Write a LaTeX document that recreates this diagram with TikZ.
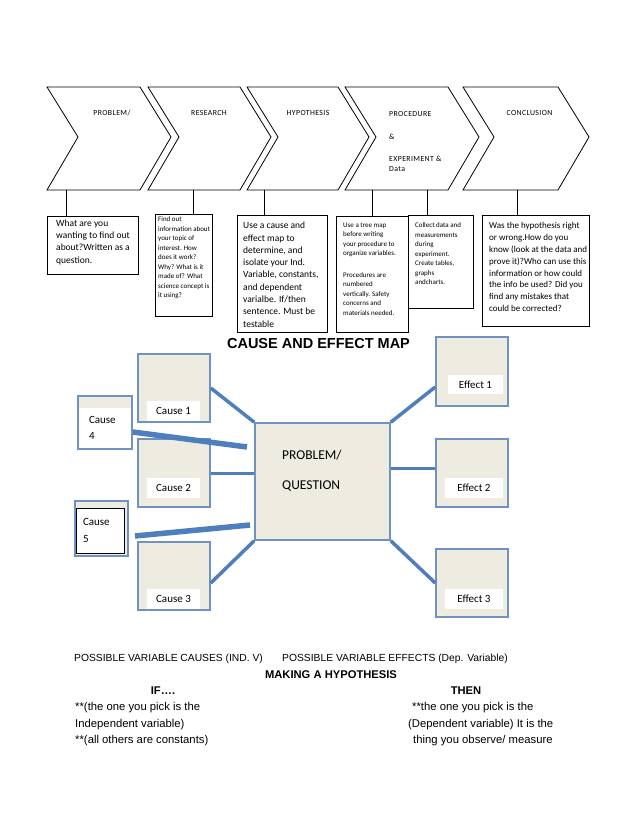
\documentclass[tikz,border=0pt]{standalone}
\usepackage{fontspec}
\setmainfont{Carlito}
\newfontfamily\arialfont{Liberation Sans}
\newfontfamily\chevfont[LetterSpace=5]{Carlito}
\usetikzlibrary{positioning}
\definecolor{mapfill}{HTML}{EEECE1}
\definecolor{mapedge}{HTML}{7092C2}
\definecolor{mapline}{HTML}{4F7EBD}

\begin{document}
\begin{tikzpicture}[x=1pt, y=-1pt]
    \tikzstyle{note}=[draw, line width=1.1pt, anchor=north west, inner sep=0pt]
    \tikzstyle{notetext}=[inner sep=0pt, align=left]
    \tikzstyle{big}=[font=\fontsize{9.5}{12.3}\selectfont]
    \tikzstyle{small}=[font=\fontsize{7}{9.5}\selectfont]
    \tikzstyle{chevlabel}=[font=\chevfont\fontsize{7.8}{10}\selectfont, inner sep=0pt]
    \tikzstyle{mapbox}=[draw=mapedge, fill=mapfill, line width=1.5pt, inner sep=0pt, minimum width=72pt, minimum height=68pt]
    \tikzstyle{tag}=[fill=white, inner sep=0pt, minimum width=53pt, minimum height=20pt, font=\fontsize{11}{13}\selectfont]
    \tikzstyle{spoke}=[draw=mapline, line width=3.5pt]
    \tikzstyle{plain}=[font=\arialfont\fontsize{10.3}{12}\selectfont, inner sep=0pt, anchor=base west]
    \tikzstyle{hyline}=[font=\arialfont\fontsize{11.3}{13}\selectfont, inner sep=0pt, anchor=base west]
    \tikzstyle{heading}=[font=\arialfont\bfseries\fontsize{11.2}{13}\selectfont, inner sep=0pt, anchor=base]

    \useasboundingbox (0,0) rectangle (638,826);

    % the five steps
    \foreach \a/\b in {47/140, 148/240, 247/338, 345/448, 463/558}
        \draw[line width=0.8pt] (\a,87) -- (\b,87) -- (\b+31,137) -- (\b,190) -- (\a,190) -- (\a+31,137) -- cycle;

    \node[chevlabel] (problem) at (112,113) {PROBLEM/};
    \node[chevlabel] (research) at (209,113) {RESEARCH};
    \node[chevlabel] (hypothesis) at (308,113) {HYPOTHESIS};
    \node[chevlabel, anchor=north west, align=left] (procedure) at (389,111) {PROCEDURE\\[13pt]\&\\[12pt]EXPERIMENT \&\\Data};
    \node[chevlabel] (conclusion) at (529.5,113) {CONCLUSION};

    \foreach \n/\x in {1/66, 2/193, 3/264, 4/372, 5/427, 6/517}
        \coordinate (c\n) at (\x,190);

    % notes under the steps
    \node[note, minimum width=91pt, minimum height=58pt] (b1) at (47,216) {};
    \node[notetext, big, below right=3.5pt and 9pt of b1.north west] (t1)
        {What are you\\wanting to find out\\about?Written as a\\question.};

    \node[note, minimum width=57pt, minimum height=102pt] (b2) at (155,214) {};
    \node[notetext, small, below right=2.5pt and 3pt of b2.north west] (t2)
        {Find out\\information about\\your topic of\\interest. How\\does it work?\\Why? What is it\\made of? What\\science concept is\\it using?};

    \node[note, minimum width=90pt, minimum height=117pt] (b3) at (237,215) {};
    \node[notetext, big, below right=7pt and 6pt of b3.north west] (t3)
        {Use a cause and\\effect map to\\determine, and\\isolate your Ind.\\Variable, constants,\\and dependent\\varialbe. If/then\\sentence. Must be\\testable};

    \node[note, minimum width=72pt, minimum height=116pt] (b4) at (336,216) {};
    \node[notetext, small, below right=6.5pt and 7pt of b4.north west] (t4)
        {Use a tree map\\before writing\\your procedure to\\organize variables.\\[12pt]Procedures are\\numbered\\vertically. Safety\\concerns and\\materials needed.};

    \node[note, minimum width=65pt, minimum height=93pt] (b5) at (408,215) {};
    \node[notetext, small, below right=7.5pt and 7pt of b5.north west] (t5)
        {Collect data and\\measurements\\during\\experiment.\\Create tables,\\graphs\\andcharts.};

    \node[note, minimum width=107pt, minimum height=111pt] (b6) at (482,215) {};
    \node[notetext, font=\fontsize{9}{11.9}\selectfont, below right=7pt and 7pt of b6.north west] (t6)
        {Was the hypothesis right\\or wrong.How do you\\know (look at the data and\\prove it)?Who can use this\\information or how could\\the info be used? Did you\\find any mistakes that\\could be corrected?};

    \draw[line width=0.8pt] (c1) -- (c1 |- b1.north);
    \draw[line width=0.8pt] (c2) -- (c2 |- b2.north);
    \draw[line width=0.8pt] (c3) -- (c3 |- b3.north);
    \draw[line width=0.8pt] (c4) -- (c4 |- b4.north);
    \draw[line width=0.8pt] (c5) -- (c5 |- b5.north);
    \draw[line width=0.8pt] (c6) -- (c6 |- b6.north);

    % cause and effect map
    \node[heading, font=\arialfont\bfseries\fontsize{14.5}{16}\selectfont] (title) at (318.5,348) {CAUSE AND EFFECT MAP};

    \node[mapbox, minimum width=135pt, minimum height=117pt] (pq) at (322.5,481.5) {};
    \node[inner sep=0pt, align=left, anchor=north west, font=\fontsize{13.5}{30}\selectfont] (pqtext) at (282,450) {PROBLEM/\\QUESTION};

    \node[mapbox] (cb1) at (174,388) {};
    \node[tag] (cl1) at (173.5,411) {Cause 1};
    \node[mapbox] (cb2) at (174,473) {};
    \node[tag] (cl2) at (173.5,488) {Cause 2};
    \node[mapbox] (cb3) at (174,576) {};
    \node[tag] (cl3) at (173.5,599) {Cause 3};

    \node[mapbox, minimum width=54pt, minimum height=53pt] (cb4) at (105,422.5) {};
    \node[tag, minimum width=52pt, minimum height=40pt, text width=32pt, inner xsep=10pt, align=left, font=\fontsize{11}{16}\selectfont] (cl4) at (105,428) {Cause\\4};
    \node[mapbox, minimum width=53pt, minimum height=55pt] (cb5) at (101.5,528.5) {};
    \node[tag, draw=black, line width=1pt, minimum width=48pt, minimum height=45pt, text width=34pt, inner xsep=7pt, align=left, font=\fontsize{11}{17}\selectfont] (cl5) at (100,530.5) {Cause\\5};

    \node[mapbox, minimum height=69pt] (eb1) at (472,371.5) {};
    \node[tag, minimum width=55pt, minimum height=19pt] (el1) at (475.5,384.5) {Effect 1};
    \node[mapbox] (eb2) at (472,473) {};
    \node[tag, minimum width=58pt] (el2) at (474,488) {Effect 2};
    \node[mapbox] (eb3) at (472,583) {};
    \node[tag, minimum width=58pt] (el3) at (474,599) {Effect 3};

    \coordinate (e4) at (247,447);
    \coordinate (s5) at (135,536);
    \coordinate (e5) at (250,525);
    \coordinate (m2) at ([yshift=5pt]eb2.west);

    \draw[spoke] (cb1.east) -- (pq.north west);
    \draw[spoke, line width=3pt] (cb2.east) -- (cb2.east -| pq.west);
    \draw[spoke] ([yshift=-7pt]cb3.east) -- (pq.south west);
    \draw[spoke, line width=5.5pt] ([yshift=-9.5pt]cb4.east) -- (e4);
    \draw[spoke, line width=5.5pt] (s5) -- (e5);
    \draw[spoke] (pq.north east) -- ([yshift=-15.5pt]eb1.west);
    \draw[spoke, line width=3pt] (m2 -| pq.east) -- (m2);
    \draw[spoke] (pq.south east) -- (eb3.west);

    % hypothesis lines
    \node[plain] (causes) at (74,661.7) {POSSIBLE VARIABLE CAUSES (IND. V)};
    \node[plain] (effects) at (282,661.7) {POSSIBLE VARIABLE EFFECTS (Dep. Variable)};
    \node[heading] (making) at (331,678) {MAKING A HYPOTHESIS};
    \node[heading] (if) at (163,694) {IF….};
    \node[heading] (then) at (466,694) {THEN};
    \node[hyline] (if1) at (75,710.7) {**(the one you pick is the};
    \node[hyline] (if2) at (75,727.2) {Independent variable)};
    \node[hyline] (if3) at (75,743.2) {**(all others are constants)};
    \node[hyline] (then1) at (412,710.7) {**the one you pick is the};
    \node[hyline] (then2) at (408,727.2) {(Dependent variable) It is the};
    \node[hyline] (then3) at (413,743.2) {thing you observe/ measure};
\end{tikzpicture}
\end{document}
